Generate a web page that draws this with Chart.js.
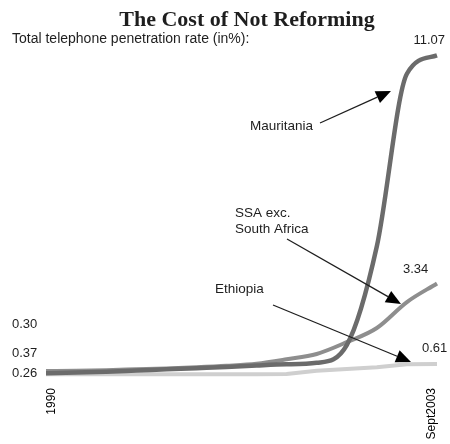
<!DOCTYPE html>
<html>
<head>
<meta charset="utf-8">
<style>
  html, body { margin: 0; padding: 0; background: #fff; }
  #wrap { width: 450px; height: 444px; }
</style>
<script src="https://cdn.jsdelivr.net/npm/chart.js"></script>
</head>
<body>
<div id="wrap"><canvas id="chart" width="450" height="444"></canvas></div>
<script>
  "use strict";

  const years = ["1990", "1991", "1992", "1993", "1994", "1995", "1996",
    "1997", "1998", "1999", "2000", "2001", "2002", "Sept2003"];
  const shownYears = ["1990", "Sept2003"];

  const mauritania = [0.30, 0.32, 0.35, 0.39, 0.43, 0.47, 0.51, 0.56, 0.60, 0.65, 1.25, 4.60, 10.45, 11.07];
  const ssa = [0.37, 0.38, 0.40, 0.43, 0.46, 0.50, 0.55, 0.62, 0.77, 0.95, 1.35, 1.83, 2.71, 3.34];
  const ethiopia = [0.26, 0.26, 0.26, 0.26, 0.26, 0.26, 0.26, 0.26, 0.27, 0.38, 0.44, 0.50, 0.60, 0.61];

  const startLabels = ["0.30", "0.37", "0.26"];
  const endLabels = ["11.07", "3.34", "0.61"];

  const SANS = '"Liberation Sans", Arial, sans-serif';
  const SERIF = '"Liberation Serif", "Times New Roman", serif';
  const INK = "#1e1e1e";

  function arrow(ctx, x1, y1, x2, y2) {
    const ang = Math.atan2(y2 - y1, x2 - x1);
    const len = 15, half = 6.5;
    const bx = x2 - len * Math.cos(ang);
    const by = y2 - len * Math.sin(ang);
    ctx.strokeStyle = INK;
    ctx.lineWidth = 1.3;
    ctx.beginPath();
    ctx.moveTo(x1, y1);
    ctx.lineTo(bx, by);
    ctx.stroke();
    ctx.fillStyle = "#000";
    ctx.beginPath();
    ctx.moveTo(x2, y2);
    ctx.lineTo(bx + half * Math.sin(ang), by - half * Math.cos(ang));
    ctx.lineTo(bx - half * Math.sin(ang), by + half * Math.cos(ang));
    ctx.closePath();
    ctx.fill();
  }

  const annotations = {
    id: "annotations",
    afterDraw(chart) {
      const ctx = chart.ctx;
      const xs = chart.scales.x;
      ctx.save();

      ctx.fillStyle = INK;
      ctx.font = "bold 22px " + SERIF;
      ctx.textAlign = "center";
      ctx.textBaseline = "alphabetic";
      ctx.fillText("The Cost of Not Reforming", 247, 26);

      ctx.font = "14px " + SANS;
      ctx.textAlign = "left";
      ctx.fillText("Total telephone penetration rate (in%):", 12, 43);

      // value labels
      ctx.font = "13px " + SANS;
      ctx.textAlign = "right";
      ctx.fillText(endLabels[0], 445, 44);
      ctx.textAlign = "left";
      ctx.fillText(endLabels[1], 403, 273);
      ctx.fillText(endLabels[2], 422, 352);

      ctx.fillText(startLabels[0], 12, 328);
      ctx.fillText(startLabels[1], 12, 357);
      ctx.fillText(startLabels[2], 12, 377);

      // series names
      ctx.font = "13.5px " + SANS;
      ctx.fillText("Mauritania", 250, 130);
      ctx.fillText("SSA exc.", 235, 217);
      ctx.fillText("South Africa", 235, 233);
      ctx.fillText("Ethiopia", 215, 293);

      arrow(ctx, 320, 123, 391, 91);
      arrow(ctx, 287, 239, 401, 304);
      arrow(ctx, 273, 305, 411, 362);

      // rotated x labels
      ctx.font = "12px " + SANS;
      ctx.textAlign = "right";
      ctx.textBaseline = "middle";
      shownYears.forEach((lab, k) => {
        const px = xs.getPixelForValue(years.indexOf(lab)) + (k === 0 ? 6 : -5);
        ctx.save();
        ctx.translate(px, 388);
        ctx.rotate(-Math.PI / 2);
        ctx.fillText(lab, 0, 0);
        ctx.restore();
      });

      ctx.restore();
    }
  };

  new Chart(document.getElementById("chart"), {
    type: "line",
    data: {
      labels: years,
      datasets: [
        {
          label: "Mauritania",
          data: mauritania,
          borderColor: "#6b6b6b",
          borderWidth: 4.5,
          pointRadius: 0,
          cubicInterpolationMode: "monotone",
          fill: false
        },
        {
          label: "SSA exc. South Africa",
          data: ssa,
          borderColor: "#8e8e8e",
          borderWidth: 4,
          pointRadius: 0,
          cubicInterpolationMode: "monotone",
          fill: false
        },
        {
          label: "Ethiopia",
          data: ethiopia,
          borderColor: "#cfcfcf",
          borderWidth: 4,
          pointRadius: 0,
          tension: 0,
          fill: false
        }
      ]
    },
    options: {
      responsive: false,
      animation: false,
      layout: { padding: { left: 46, right: 13, top: 28, bottom: 62 } },
      plugins: {
        legend: { display: false },
        tooltip: { enabled: false }
      },
      scales: {
        x: { display: false, offset: false },
        y: { display: false, min: 0, max: 12 }
      }
    },
    plugins: [annotations]
  });
</script>
</body>
</html>
